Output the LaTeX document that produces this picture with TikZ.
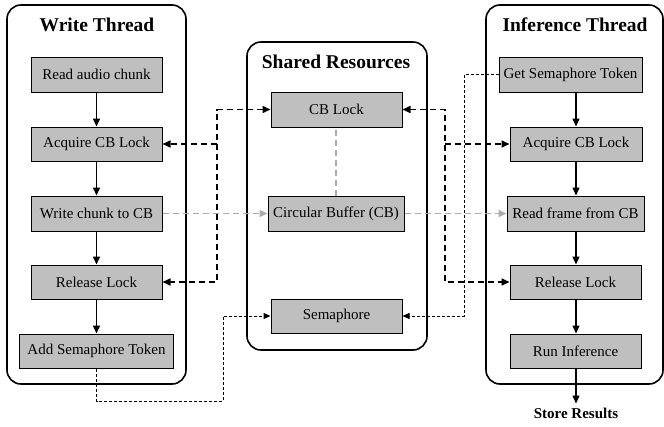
\documentclass[tikz,border=0pt]{standalone}
\usepackage{fontspec}
\setmainfont{Liberation Serif}
\usetikzlibrary{arrows.meta,calc}
\definecolor{boxgray}{HTML}{BFBFBF}
\definecolor{cbgray}{HTML}{ABABAB}
\begin{document}
\begin{tikzpicture}[x=1pt,y=-1pt,
  container/.style={draw,line width=1.6pt,rounded corners=14pt,inner sep=0pt},
  title/.style={font=\fontsize{19.5}{22}\selectfont\bfseries,inner sep=0pt},
  proc/.style={draw,line width=1pt,fill=boxgray,inner sep=0pt,font=\fontsize{15}{17}\selectfont},
  flow/.style={line width=1.5pt,-{Triangle[length=8pt,width=7pt]}},
  lockline/.style={line width=1.6pt,dash pattern=on 6pt off 4pt},
  lockhead/.style={-{Triangle[length=8pt,width=7pt]}},
  lockboth/.style={{Triangle[length=8pt,width=7pt]}-{Triangle[length=8pt,width=7pt]}},
  cbline/.style={line width=1.3pt,cbgray,dash pattern=on 6pt off 4pt},
  cbhead/.style={-{Triangle[length=8pt,width=7pt]}},
  semline/.style={line width=1pt,dash pattern=on 3pt off 2pt,-{Triangle[length=7pt,width=6pt]}}
]
\useasboundingbox (0,0) rectangle (664,426);

% containers
\node[container,minimum width=179pt,minimum height=379pt] (wt) at (96.5,194.5) {};
\node[container,minimum width=180pt,minimum height=308pt] (sr) at (337,196) {};
\node[container,minimum width=177pt,minimum height=379pt] (it) at (574.5,194.5) {};
\node[title] (wtt) at (97,25) {Write Thread};
\node[title] (srt) at (336,62) {Shared Resources};
\node[title] (itt) at (575,25) {Inference Thread};

% write thread
\node[proc,minimum width=131pt,minimum height=35pt] (wread) at (96.5,74.5) {Read audio chunk};
\node[proc,minimum width=131pt,minimum height=34pt] (wacq) at (96.5,144) {Acquire CB Lock};
\node[proc,minimum width=131pt,minimum height=35pt] (wwrite) at (96.5,213.5) {Write chunk to CB};
\node[proc,minimum width=131pt,minimum height=34pt] (wrel) at (96.5,282) {Release Lock};
\node[proc,minimum width=154pt,minimum height=34pt] (wadd) at (96.5,351) {Add Semaphore Token};

% shared
\node[proc,minimum width=131pt,minimum height=35pt] (cblock) at (336.5,109.5) {CB Lock};
\node[proc,minimum width=136pt,minimum height=35pt] (cbuf) at (336,213.5) {Circular Buffer (CB)};
\node[proc,minimum width=131pt,minimum height=34pt] (sem) at (336.5,316) {Semaphore};

% inference
\node[proc,minimum width=143pt,minimum height=35pt] (iget) at (570.5,74.5) {Get Semaphore Token};
\node[proc,minimum width=132pt,minimum height=34pt] (iacq) at (576,144) {Acquire CB Lock};
\node[proc,minimum width=137pt,minimum height=35pt] (iread) at (575.5,213.5) {Read frame from CB};
\node[proc,minimum width=131pt,minimum height=34pt] (irel) at (575.5,282) {Release Lock};
\node[proc,minimum width=131pt,minimum height=34pt] (irun) at (575.5,351) {Run Inference};
\node[font=\fontsize{15}{17}\selectfont\bfseries,inner sep=0pt] (store) at (576,413) {Store Results};

% flow arrows
\draw[flow] (wread) -- (wacq);
\draw[flow] (wacq) -- (wwrite);
\draw[flow] (wwrite) -- (wrel);
\draw[flow] (wrel) -- (wadd);
\draw[flow] (iget.south -| iacq.north) -- (iacq.north);
\draw[flow] (iacq.south) -- (iacq.south |- iread.north);
\draw[flow] (iacq.south |- iread.south) -- (iacq.south |- irel.north);
\draw[flow] (iacq.south |- irel.south) -- (iacq.south |- irun.north);
\draw[flow] (iacq.south |- irun.south) -- ($(store.north)+(0,-4)$);

% lock connectors
\coordinate (lx) at (217,0);
\coordinate (rx) at (445,0);
\draw[lockline,lockboth] (cblock.west) -- (cblock.west -| lx) |- (wrel.east);
\draw[lockline,lockhead] (wacq.east -| lx) -- (wacq.east);
\draw[lockline,lockboth] (cblock.east) -- (cblock.east -| rx) |- (irel.west);
\draw[lockline,lockhead] (iacq.west -| rx) -- (iacq.west);

% circular buffer connectors
\draw[cbline,cbhead] (wwrite.east) -- (cbuf.west);
\draw[cbline,cbhead] (cbuf.east) -- (iread.west);
\draw[cbline] (cbuf.north) -- (cbuf.north |- cblock.south);

% semaphore connectors
\coordinate (s1) at (223,401);
\coordinate (s2) at (464,0);
\draw[semline] (wadd.south) |- (s1) |- (sem.west);
\draw[semline] (iget.west) -- (iget.west -| s2) |- (sem.east);
\end{tikzpicture}
\end{document}
